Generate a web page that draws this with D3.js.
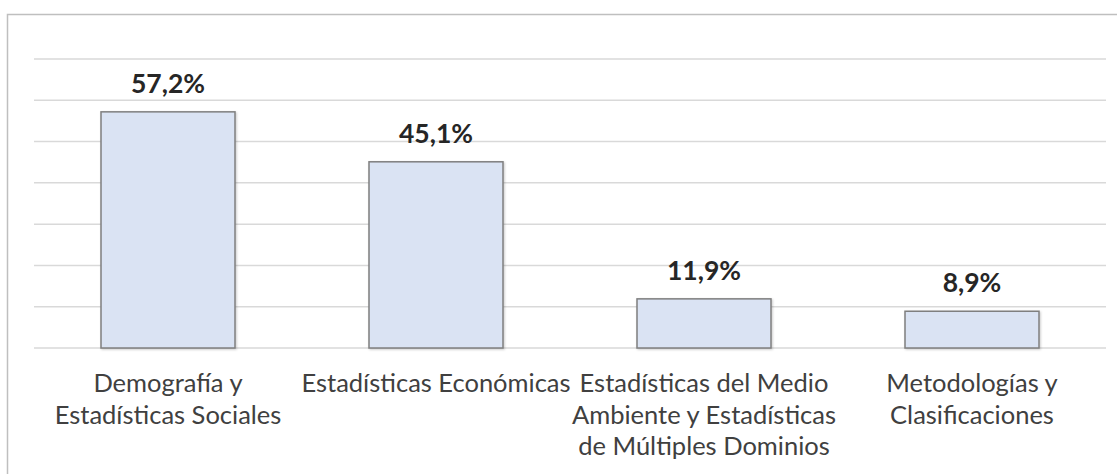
<!DOCTYPE html>
<html>
<head>
<meta charset="utf-8">
<script src="https://cdn.jsdelivr.net/npm/d3@7"></script>
<style>
body { margin: 0; background: #fff; }
svg { display: block; }
.cat { font-family: Lato, "Noto Sans", sans-serif; font-size: 25.5px; fill: #404040; }
.val { font-family: Lato, "Noto Sans", sans-serif; font-size: 26.5px; font-weight: bold; fill: #262626; }
</style>
</head>
<body>
<div id="chart"></div>
<script>
// data
var categories = ["Demografía y Estadísticas Sociales", "Estadísticas Económicas",
  "Estadísticas del Medio Ambiente y Estadísticas de Múltiples Dominios", "Metodologías y Clasificaciones"];
var labelLines = [
  ["Demografía y", "Estadísticas Sociales"],
  ["Estadísticas Económicas"],
  ["Estadísticas del Medio", "Ambiente y Estadísticas", "de Múltiples Dominios"],
  ["Metodologías y", "Clasificaciones"]
];
var values = [57.2, 45.1, 11.9, 8.9];
var gridTicks = [0, 10, 20, 30, 40, 50, 60, 70];

var W = 1117, H = 474;
var margin = {top: 59, bottom: 126, left: 34, right: 11};
var width = W - margin.left - margin.right,
    height = H - margin.top - margin.bottom;

var root = d3.select("#chart").append("svg")
  .attr("width", W)
  .attr("height", H);

// outer chart border
root.append("rect")
  .attr("x", 7.5).attr("y", 14.5)
  .attr("width", W + 10).attr("height", H + 10)
  .attr("fill", "none")
  .attr("stroke", "#bfbfbf")
  .attr("stroke-width", 1.5);

var svg = root.append("g")
  .attr("transform", "translate(" + margin.left + "," + margin.top + ")");

var x = d3.scaleBand()
  .domain(categories)
  .range([0, width])
  .paddingInner(0.5)
  .paddingOuter(0.25);

var y = d3.scaleLinear()
  .domain([0, 70])
  .range([height, 0]);

// gridlines
svg.append("g")
  .selectAll("line")
  .data(gridTicks)
  .enter()
  .append("line")
  .attr("x1", 0)
  .attr("x2", width)
  .attr("y1", function(d){ return y(d); })
  .attr("y2", function(d){ return y(d); })
  .attr("stroke", "#d9d9d9")
  .attr("stroke-width", 1.5);

// shadow
var defs = root.append("defs");
var f = defs.append("filter").attr("id", "sh").attr("x", "-10%").attr("y", "-10%").attr("width", "130%").attr("height", "130%");
f.append("feDropShadow").attr("dx", 1).attr("dy", 1).attr("stdDeviation", 1).attr("flood-color", "#000").attr("flood-opacity", 0.2);

// bars
svg.append("g")
  .selectAll("rect")
  .data(values)
  .enter()
  .append("rect")
  .attr("x", function(d, i){ return x(categories[i]); })
  .attr("y", function(d){ return y(d); })
  .attr("width", x.bandwidth())
  .attr("height", function(d){ return y(0) - y(d); })
  .attr("fill", "#dae3f3")
  .attr("stroke", "#7f7f7f")
  .attr("stroke-width", 1.5)
  .attr("filter", "url(#sh)");

// value labels
svg.append("g")
  .selectAll("text")
  .data(values)
  .enter()
  .append("text")
  .classed("val", true)
  .attr("text-anchor", "middle")
  .attr("x", function(d, i){ return x(categories[i]) + x.bandwidth() / 2; })
  .attr("y", function(d){ return y(d) - 19; })
  .text(function(d){ return d.toFixed(1).replace(".", ",") + "%"; });

// category labels
var cats = svg.append("g")
  .selectAll("text")
  .data(categories)
  .enter()
  .append("text")
  .classed("cat", true)
  .attr("text-anchor", "middle")
  .attr("x", function(d){ return x(d) + x.bandwidth() / 2; })
  .attr("y", height + 44);

cats.selectAll("tspan")
  .data(function(d, i){ return labelLines[i]; })
  .enter()
  .append("tspan")
  .attr("x", function(){ var p = this.parentNode; return p.getAttribute("x"); })
  .attr("dy", function(d, i){ return i == 0 ? 0 : 31.5; })
  .text(function(d){ return d; });
</script>
</body>
</html>
